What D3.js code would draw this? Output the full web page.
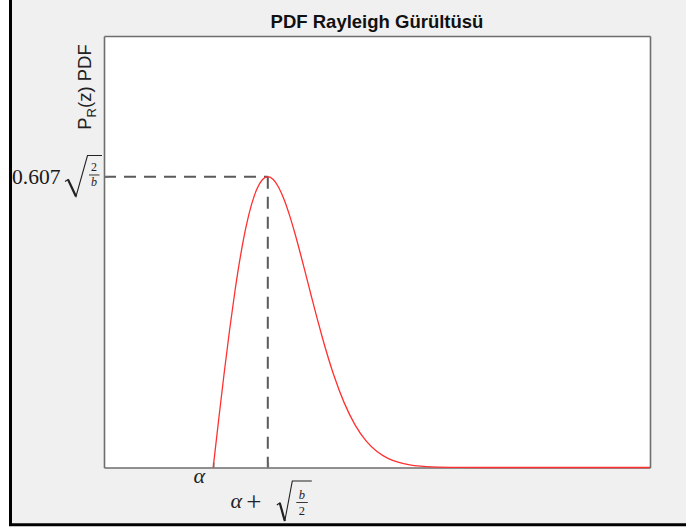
<!DOCTYPE html>
<html><head><meta charset="utf-8">
<script src="https://cdn.jsdelivr.net/npm/d3@7"></script>
<style>html,body{margin:0;padding:0;background:#fff;}svg{display:block;}</style>
</head><body>
<svg id="c" width="686" height="529"></svg>
<script>
// ---- data ----
const zValues = [2.0,2.1,2.2,2.3,2.4,2.5,2.6,2.7,2.8,2.9,3.0,3.1,3.2,3.3,3.4,3.5,3.6,3.7,3.8,3.9,4.0,4.2,4.4,4.6,4.8,5.0,5.2,5.4,5.6,5.8,6.0,6.5,7.0,8.0,9.0,10.0];
const pdfValues = [0,0.0995,0.1960,0.2868,0.3692,0.4412,0.5012,0.5478,0.5809,0.6003,0.6065,0.6007,0.5841,0.5585,0.5254,0.4870,0.4448,0.4007,0.3562,0.3125,0.2707,0.1956,0.1348,0.0885,0.0556,0.0333,0.0191,0.0105,0.0055,0.0028,0.0013,0.0002,0,0,0,0];
const xDomain = [0, 10];
const yDomain = [0, 0.9];
const xTickValues = [2, 3];      // alpha, alpha + sqrt(b/2)
const yTickValues = [0.607];     // 0.607 sqrt(2/b)
const peakPoint = {z: 3, p: 0.6065};
const titleText = "PDF Rayleigh Gürültüsü";

const svg = d3.select("#c");
// figure background + border
svg.append("rect").attr("x",11).attr("y",0).attr("width",675).attr("height",524).attr("fill","#f0f0f0");
svg.append("line").attr("x1",10.5).attr("x2",10.5).attr("y1",0).attr("y2",526).attr("stroke","#000").attr("stroke-width",3);
svg.append("line").attr("x1",9).attr("x2",686).attr("y1",524.7).attr("y2",524.7).attr("stroke","#000").attr("stroke-width",3);

const L=104, R=650, T=36, B=467.5;
const x = d3.scaleLinear().domain(xDomain).range([L,R]);
const y = d3.scaleLinear().domain(yDomain).range([B,T]);

svg.append("rect").attr("x",L).attr("y",T).attr("width",R-L).attr("height",B-T).attr("fill","#fff");

// dashed guides
svg.append("line").attr("x1",x(xDomain[0])).attr("x2",x(peakPoint.z)).attr("y1",y(peakPoint.p)).attr("y2",y(peakPoint.p))
  .attr("stroke","#5a5a5a").attr("stroke-width",2).attr("stroke-dasharray","12,8");
svg.append("line").attr("x1",x(peakPoint.z)).attr("x2",x(peakPoint.z)).attr("y1",y(peakPoint.p)).attr("y2",y(0))
  .attr("stroke","#5a5a5a").attr("stroke-width",2).attr("stroke-dasharray","12,8");

// axes (no text labels; math labels drawn separately)
const gx = svg.append("g").attr("transform",`translate(0,${B})`)
  .call(d3.axisBottom(x).tickValues(xTickValues).tickSizeInner(-5).tickSizeOuter(0).tickFormat(""));
const gy = svg.append("g").attr("transform",`translate(${L},0)`)
  .call(d3.axisLeft(y).tickValues(yTickValues).tickSizeInner(-5).tickSizeOuter(0).tickFormat(""));
const gx2 = svg.append("g").attr("transform",`translate(0,${T})`)
  .call(d3.axisTop(x).tickValues([]).tickSizeOuter(0));
const gy2 = svg.append("g").attr("transform",`translate(${R},0)`)
  .call(d3.axisRight(y).tickValues([]).tickSizeOuter(0));
[gx,gy,gx2,gy2].forEach(g=>{g.selectAll("path,line").attr("stroke","#6e6e6e").attr("stroke-width",1.6);});

// curve
const line = d3.line().x((d,i)=>x(zValues[i])).y(d=>y(d)).curve(d3.curveMonotoneX);
svg.append("path").datum(pdfValues).attr("d",line).attr("fill","none").attr("stroke","#ff3030").attr("stroke-width",1.3);

// title
svg.append("text").attr("x",(L+R)/2).attr("y",28).attr("text-anchor","middle")
  .attr("font-family","Liberation Sans, Arial, sans-serif").attr("font-weight","bold").attr("font-size",18.5)
  .attr("fill","#111").text(titleText);

// y label
const yl = svg.append("text").attr("transform","translate(91,87) rotate(-90)").attr("text-anchor","middle")
  .attr("font-family","Liberation Sans, Arial, sans-serif").attr("font-size",18.5).attr("fill","#222");
yl.append("tspan").text("P");
yl.append("tspan").attr("font-size",13).attr("dy",5).text("R");
yl.append("tspan").attr("dy",-5).text("(z) PDF");

const serif = "Liberation Serif, Times New Roman, serif";
// y tick label: 0.607 sqrt(2/b)
const ty = y(yTickValues[0]);
const ylab = svg.append("g").attr("transform",`translate(0,${ty})`);
ylab.append("text").attr("x",12).attr("y",7.5).attr("font-family",serif).attr("font-size",21.5).attr("fill","#1a1a1a").text("0.607");
ylab.append("path").attr("d","M65,5 L68,3 L76,20 L87.5,-21 L102,-21").attr("fill","none").attr("stroke","#222").attr("stroke-width",1.1);
ylab.append("path").attr("d","M68,3 L76,20").attr("stroke","#222").attr("stroke-width",2.2);
ylab.append("text").attr("x",94).attr("y",-5).attr("text-anchor","middle").attr("font-family",serif).attr("font-size",12).attr("fill","#222").text("2");
ylab.append("line").attr("x1",89).attr("x2",99.5).attr("y1",-1.5).attr("y2",-1.5).attr("stroke","#222").attr("stroke-width",0.9);
ylab.append("text").attr("x",94).attr("y",10).attr("text-anchor","middle").attr("font-family",serif).attr("font-style","italic").attr("font-size",12).attr("fill","#222").text("b");

// x tick labels
svg.append("text").attr("x",x(xTickValues[0])-14).attr("y",483).attr("text-anchor","middle")
  .attr("font-family",serif).attr("font-style","italic").attr("font-size",22).attr("fill","#222").text("α");
const xl = svg.append("g").attr("transform",`translate(${x(xTickValues[1])},0)`);
xl.append("text").attr("x",-31.5).attr("y",508).attr("text-anchor","middle").attr("font-family",serif).attr("font-style","italic").attr("font-size",22).attr("fill","#222").text("α");
xl.append("text").attr("x",-14).attr("y",511).attr("text-anchor","middle").attr("font-family",serif).attr("font-size",27).attr("fill","#222").text("+");
xl.append("path").attr("d","M9,505 L12,503 L17,521 L24.5,481 L44,481").attr("fill","none").attr("stroke","#222").attr("stroke-width",1.1);
xl.append("path").attr("d","M12,503 L17,521").attr("stroke","#222").attr("stroke-width",2.2);
xl.append("text").attr("x",34).attr("y",499).attr("text-anchor","middle").attr("font-family",serif).attr("font-style","italic").attr("font-size",12.5).attr("fill","#222").text("b");
xl.append("line").attr("x1",28.5).attr("x2",40).attr("y1",502.5).attr("y2",502.5).attr("stroke","#222").attr("stroke-width",0.9);
xl.append("text").attr("x",34).attr("y",515).attr("text-anchor","middle").attr("font-family",serif).attr("font-size",12.5).attr("fill","#222").text("2");
</script>
</body></html>
